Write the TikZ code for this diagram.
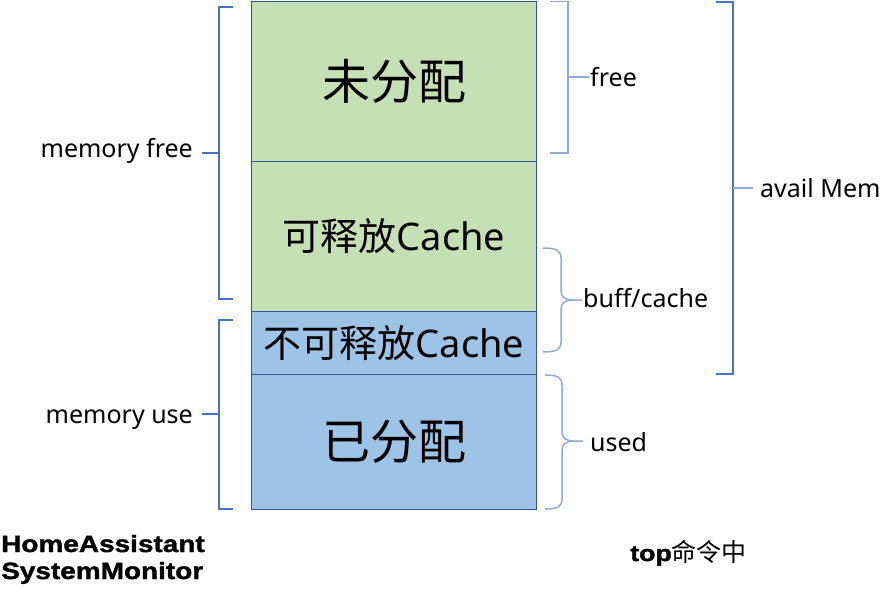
\documentclass[tikz,border=0pt]{standalone}
\usepackage{fontspec}
\setmainfont{Noto Sans}
\newfontfamily\cjk{Noto Sans CJK SC}
\newfontfamily\heavy[FakeStretch=1.19,FakeBold=1.6]{Liberation Sans Bold}
\definecolor{boxgreen}{HTML}{C5E0B4}
\definecolor{boxblue}{HTML}{9DC3E6}
\definecolor{edgeblue}{HTML}{2F5597}
\definecolor{brk}{HTML}{4472C4}
\definecolor{brklight}{HTML}{8FAADC}
\begin{document}
\begin{tikzpicture}[x=1pt,y=-1pt,
  membox/.style={draw=edgeblue, line width=1pt, minimum width=285pt, inner sep=0pt, anchor=north west},
  bigtxt/.style={font=\cjk\fontsize{48}{56}\selectfont},
  midtxt/.style={font=\fontsize{38}{44}\selectfont},
  lbl/.style={font=\fontsize{25}{30}\selectfont, inner sep=0pt},
  brkline/.style={draw=brk, line width=1.3pt},
  brklt/.style={draw=brklight, line width=1.5pt},
  bottxt/.style={font=\heavy\fontsize{23.5}{28}\selectfont, inner sep=0pt, anchor=base west}]
\useasboundingbox (0,0) rectangle (884,592);
% memory column
\node[membox, fill=boxgreen, minimum height=160pt] (b1) at (251,1) {};
\node[membox, fill=boxgreen, minimum height=150pt] (b2) at (251,161) {};
\node[membox, fill=boxblue, minimum height=63pt] (b3) at (251,311) {};
\node[membox, fill=boxblue, minimum height=135pt] (b4) at (251,374) {};
\node[bigtxt] (t1) at (b1.center) {未分配};
\node[midtxt] (t2) at (b2.center) {{\cjk 可释放}Cache};
\node[midtxt] (t3) at (b3.center) {{\cjk 不可释放}Cache};
\node[bigtxt] (t4) at (b4.center) {已分配};
% left brackets
\coordinate (mfa) at (233,7); \coordinate (mfb) at (233,299);
\draw[brkline] (mfa) -- (219,7) -- (219,299) -- (mfb);
\node[lbl, anchor=base east] (mf) at (193,157) {memory free};
\draw[brkline] (219,153) -- (202,153);
\coordinate (mua) at (233,320); \coordinate (mub) at (233,509);
\draw[brkline] (mua) -- (219,320) -- (219,509) -- (mub);
\node[lbl, anchor=base east] (mu) at (193,423) {memory use};
\draw[brkline] (219,414) -- (202,414);
% right: free
\draw[brklt] (550,1.5) -- (568,1.5) -- (568,153) -- (550,153);
\draw[brklt] (568,77) -- (589,77);
\node[lbl, anchor=base west] (fr) at (590,86) {free};
% buff/cache curly
\draw[brklt] (543,248) .. controls (555,248) and (561,250) .. (561,258) -- (561,291)
  .. controls (561,297) and (565,300) .. (573,300) -- (582,300);
\draw[brklt] (543,352) .. controls (555,352) and (561,350) .. (561,342) -- (561,309)
  .. controls (561,303) and (565,300) .. (573,300);
\node[lbl, anchor=base west] (bc) at (583,307) {buff/cache};
% used curly
\draw[brklt] (545,375) .. controls (557,375) and (562,377) .. (562,385) -- (562,432)
  .. controls (562,438) and (566,441) .. (574,441) -- (583,441);
\draw[brklt] (545,509) .. controls (557,509) and (562,507) .. (562,499) -- (562,450)
  .. controls (562,444) and (566,441) .. (574,441);
\node[lbl, anchor=base west] (us) at (590,451) {used};
% avail Mem
\draw[brkline] (716,2) -- (733,2) -- (733,374) -- (716,374);
\draw[brklt] (733,188) -- (753,188);
\node[lbl, anchor=base west] (am) at (760,197) {avail Mem};
% bottom texts
\node[bottxt] (ha) at (1,552) {HomeAssistant};
\node[bottxt] (sm) at (1,579) {SystemMonitor};
\node[inner sep=0pt, anchor=base west] (top) at (630,561) {{\heavy\fontsize{22.5}{26}\selectfont top}{\cjk\fontsize{25}{28}\selectfont 命令中}};
\end{tikzpicture}
\end{document}
